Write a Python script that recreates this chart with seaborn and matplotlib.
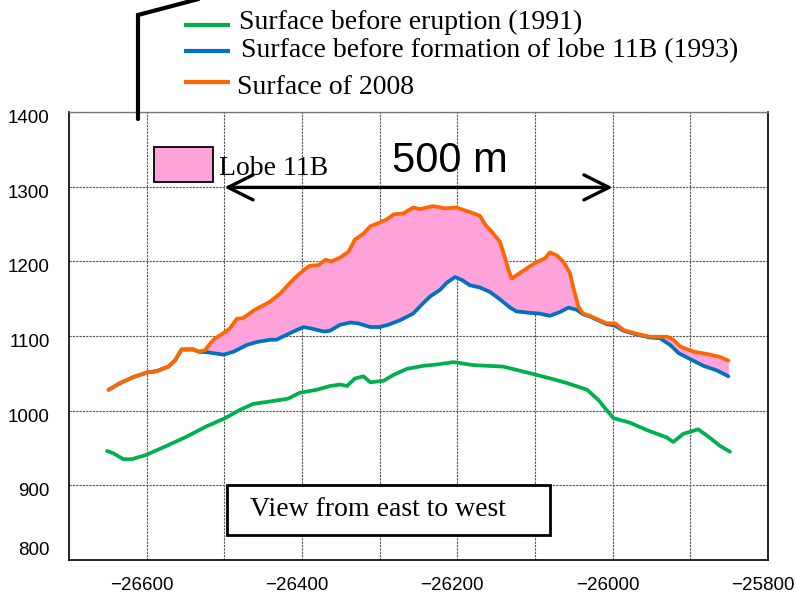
import numpy as np
import pandas as pd
import matplotlib
matplotlib.use("Agg")
import matplotlib.pyplot as plt
import seaborn as sns
from matplotlib.lines import Line2D
from matplotlib.patches import Rectangle
from matplotlib.transforms import ScaledTranslation

# ---------------- data ----------------
x_1991 = [-26651, -26643, -26630, -26619, -26600, -26574, -26549, -26523, -26499, -26480,
          -26463, -26437, -26418, -26403, -26381, -26364, -26351, -26342, -26332, -26321,
          -26312, -26295, -26282, -26265, -26244, -26225, -26205, -26179, -26141, -26102,
          -26076, -26059, -26033, -26018, -26008, -25999, -25978, -25956, -25930, -25922,
          -25909, -25890, -25879, -25862, -25849]
y_1991 = [946, 943, 935, 935, 941, 953, 965, 979, 990, 1001,
          1009, 1013, 1016, 1024, 1028, 1033, 1035, 1033, 1043, 1046,
          1038, 1040, 1048, 1056, 1060, 1062, 1065, 1061, 1059, 1049,
          1042, 1037, 1028, 1014, 1001, 990, 984, 974, 964, 958,
          969, 975, 967, 953, 945]

x_1993 = [-26649, -26634, -26617, -26600, -26587, -26572, -26563, -26555, -26540, -26533,
          -26520, -26514, -26501, -26488, -26471, -26458, -26441, -26433, -26411, -26398,
          -26388, -26372, -26364, -26351, -26338, -26328, -26312, -26300, -26289, -26274,
          -26257, -26244, -26235, -26222, -26214, -26203, -26194, -26184, -26171, -26158,
          -26145, -26132, -26124, -26107, -26094, -26081, -26068, -26057, -26046, -26038,
          -26029, -26025, -26008, -25997, -25986, -25969, -25952, -25939, -25926, -25915,
          -25900, -25883, -25866, -25851]
y_1993 = [1028, 1037, 1045, 1051, 1053, 1059, 1068, 1082, 1082, 1079,
          1078, 1077, 1075, 1079, 1088, 1092, 1095, 1095, 1106, 1112,
          1110, 1106, 1107, 1115, 1118, 1117, 1112, 1112, 1115, 1121,
          1130, 1144, 1153, 1162, 1171, 1179, 1175, 1168, 1165, 1159,
          1149, 1138, 1133, 1131, 1130, 1127, 1132, 1138, 1135, 1129,
          1126, 1124, 1116, 1114, 1107, 1102, 1098, 1097, 1088, 1077,
          1069, 1060, 1054, 1046]

x_2008 = [-26649, -26634, -26617, -26600, -26587, -26572, -26563, -26555, -26540, -26533,
          -26525, -26514, -26501, -26493, -26484, -26476, -26461, -26441, -26428, -26420,
          -26409, -26398, -26390, -26379, -26370, -26362, -26351, -26340, -26332, -26321,
          -26312, -26300, -26291, -26282, -26270, -26257, -26248, -26231, -26216, -26201,
          -26184, -26171, -26164, -26156, -26145, -26139, -26134, -26130, -26120, -26107,
          -26098, -26087, -26081, -26072, -26063, -26055, -26050, -26044, -26038, -26029,
          -26025, -26008, -25997, -25986, -25969, -25952, -25939, -25930, -25922, -25913,
          -25896, -25879, -25862, -25851]
y_2008 = [1028, 1037, 1045, 1051, 1053, 1059, 1068, 1082, 1082, 1079,
          1081, 1095, 1104, 1110, 1123, 1124, 1135, 1146, 1157, 1166,
          1178, 1188, 1194, 1195, 1202, 1200, 1205, 1213, 1229, 1237,
          1247, 1252, 1256, 1263, 1264, 1272, 1270, 1274, 1271, 1272,
          1266, 1261, 1249, 1240, 1226, 1206, 1188, 1177, 1184, 1193,
          1199, 1204, 1212, 1208, 1199, 1184, 1162, 1139, 1130, 1127,
          1125, 1117, 1117, 1108, 1103, 1099, 1099, 1099, 1095, 1086,
          1079, 1076, 1072, 1067]

series_labels = ["Surface before eruption (1991)",
                 "Surface before formation of lobe 11B (1993)",
                 "Surface of 2008"]
lobe_label = "Lobe 11B"
scale_label = "500 m"
scale_start, scale_end, scale_y = -26500, -26000, 1299
view_label = "View from east to west"
x_ticks = [-26600, -26400, -26200, -26000, -25800]
y_ticks = [800, 900, 1000, 1100, 1200, 1300, 1400]

# ---------------- style ----------------
C_GREEN = "#00B050"
C_BLUE = "#0070C0"
C_ORANGE = "#FF6600"
C_PINK = "#FFA3DA"

sns.set_theme(style="white")
plt.rcParams["font.family"] = ["Liberation Sans", "DejaVu Sans"]
SERIF = ["Liberation Serif", "DejaVu Serif"]

fig = plt.figure(figsize=(7.96, 5.96), dpi=100)
ax = fig.add_axes([0.0867, 0.0604, 0.8781, 0.7517])

# pink fill between 1993 and 2008 surfaces
grid_x = np.union1d(x_1993, x_2008)
g93 = np.interp(grid_x, x_1993, y_1993)
g08 = np.interp(grid_x, x_2008, y_2008)
ax.fill_between(grid_x, g93, g08, where=g08 > g93 + 0.5, interpolate=True,
                color=C_PINK, lw=0, zorder=1)

df91 = pd.DataFrame({"x": x_1991, "y": y_1991})
df93 = pd.DataFrame({"x": x_1993, "y": y_1993})
df08 = pd.DataFrame({"x": x_2008, "y": y_2008})
lw = 2.7
sns.lineplot(data=df91, x="x", y="y", ax=ax, color=C_GREEN, lw=lw, estimator=None, sort=False, zorder=3)
sns.lineplot(data=df93, x="x", y="y", ax=ax, color=C_BLUE, lw=lw, estimator=None, sort=False, zorder=3)
sns.lineplot(data=df08, x="x", y="y", ax=ax, color=C_ORANGE, lw=lw, estimator=None, sort=False, zorder=4)

ax.set_xlim(-26700, -25800)
ax.set_ylim(800, 1400)
ax.set_xlabel("")
ax.set_ylabel("")

# grid
ax.set_xticks(np.arange(-26600, -25800, 100), minor=True)
ax.set_xticks(x_ticks)
ax.set_yticks(y_ticks)
ax.grid(True, which="both", color="#555555", linestyle=(0, (2, 1)), lw=0.8, zorder=0)
ax.set_axisbelow(True)
ax.tick_params(axis="both", which="major", length=3, width=1, color="black",
               labelsize=13.5, labelcolor="black", direction="out")
ax.tick_params(axis="x", which="major", pad=9)
ax.tick_params(axis="y", which="major", pad=11)
ax.tick_params(axis="x", which="minor", length=0)
for side in ["left", "bottom", "right"]:
    ax.spines[side].set_color("black")
    ax.spines[side].set_linewidth(1.2)
ax.spines["top"].set_color("#777777")
ax.spines["top"].set_linewidth(1.0)

# scale arrow
ax.annotate("", xy=(scale_start, scale_y), xytext=(scale_end, scale_y),
            arrowprops=dict(arrowstyle="<->,head_length=0.9,head_width=0.45",
                            lw=2.4, color="black", mutation_scale=20,
                            shrinkA=0, shrinkB=0), zorder=6)
ax.text(0.545, 0.866, scale_label, transform=ax.transAxes, fontsize=30,
        ha="center", va="baseline", color="black", zorder=6)

# Lobe 11B legend patch
ax.add_patch(Rectangle((0.1216, 0.8438), 0.0844, 0.0781, transform=ax.transAxes,
                       facecolor=C_PINK, edgecolor="black", lw=1.3, zorder=6, clip_on=False))
ax.text(0.2140, 0.859, lobe_label, transform=ax.transAxes, fontsize=20,
        family=SERIF, ha="left", va="baseline", color="black", zorder=6)

# view box
ax.add_patch(Rectangle((0.226, 0.0558), 0.462, 0.1116, transform=ax.transAxes,
                       facecolor="white", edgecolor="black", lw=2.0, zorder=6))
ax.text(0.259, 0.098, view_label, transform=ax.transAxes, fontsize=20,
        family=SERIF, ha="left", va="baseline", color="black", zorder=7)

# legend (figure coordinates, in pixels of a 796x596 canvas)
W, H = 796.0, 596.0
leg_colors = [C_GREEN, C_BLUE, C_ORANGE]
leg_line_y = [25, 51, 82]
leg_text_x = [239, 241, 237]
leg_text_base = [29, 57, 94]
for c, ly, tx, tb, lab in zip(leg_colors, leg_line_y, leg_text_x, leg_text_base, series_labels):
    fig.add_artist(Line2D([184 / W, 230 / W], [1 - ly / H, 1 - ly / H],
                          transform=fig.transFigure, color=c, lw=3.0, solid_capstyle="butt"))
    fig.text(tx / W, 1 - tb / H, lab, fontsize=20, family=SERIF,
             ha="left", va="baseline", color="black")

# black leader line at top-left
fig.add_artist(Line2D([138 / W, 138 / W, 240 / W], [1 - 119 / H, 1 - 15 / H, 1 + 12 / H],
                      transform=fig.transFigure, color="black", lw=3.0, zorder=10,
                      solid_joinstyle="miter"))

# tick label offsets (as in the reference)
for lab, val in zip(ax.get_yticklabels(), y_ticks):
    dy = 12 if val == 800 else -4.5
    lab.set_transform(lab.get_transform() + ScaledTranslation(0, dy / 100, fig.dpi_scale_trans))
for lab in ax.get_xticklabels():
    lab.set_transform(lab.get_transform() + ScaledTranslation(-5 / 100, 0, fig.dpi_scale_trans))

fig.savefig("out.png", dpi=100)
